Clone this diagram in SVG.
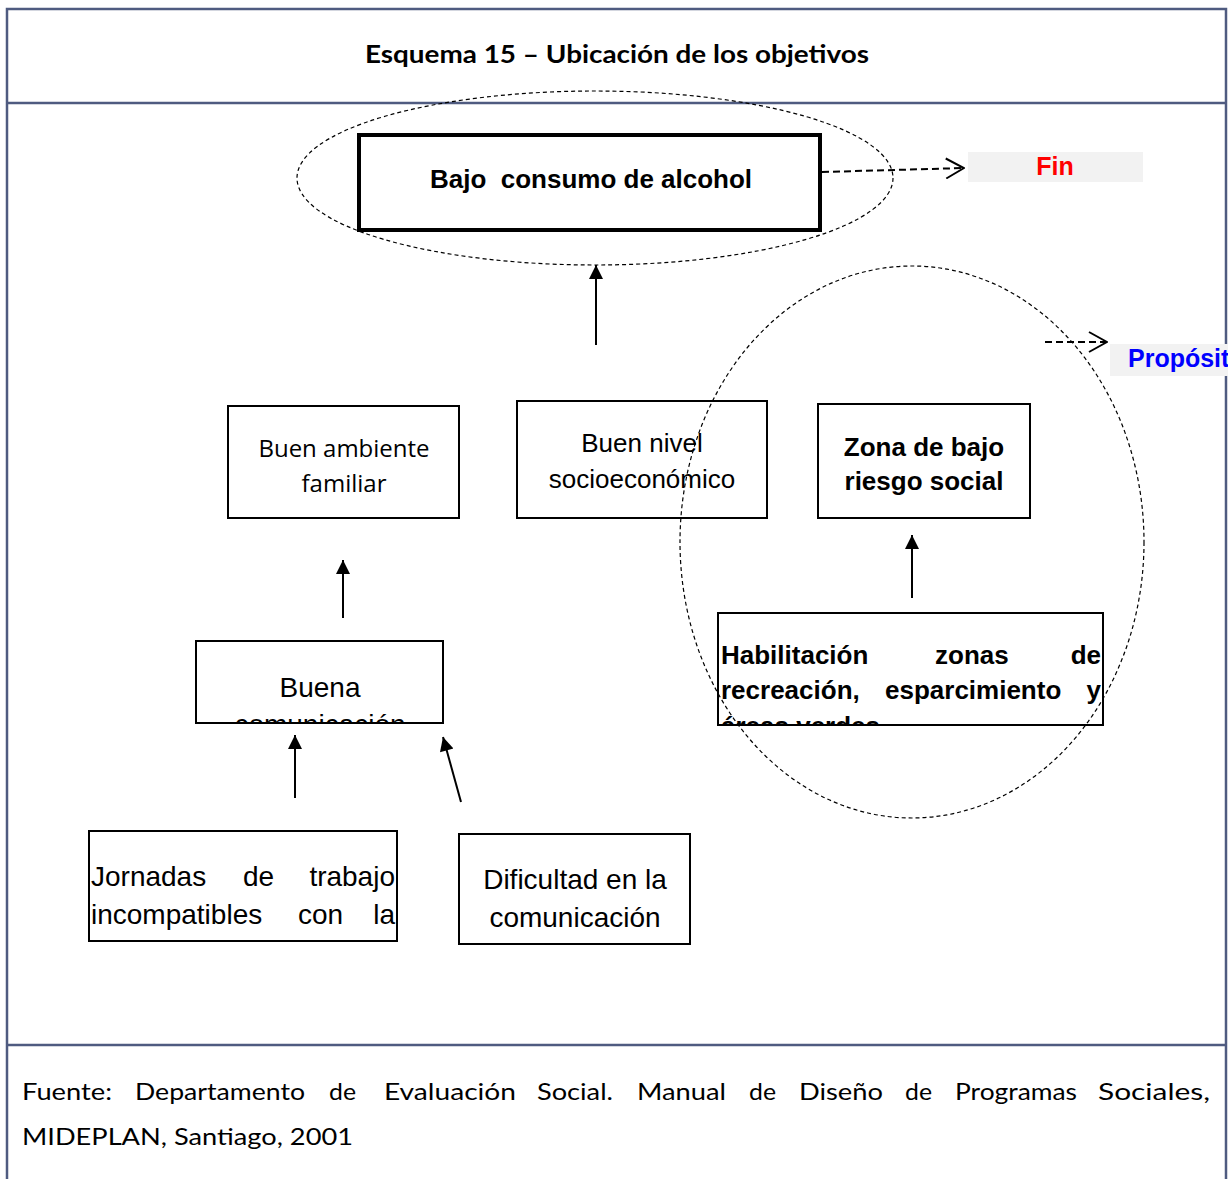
<svg xmlns="http://www.w3.org/2000/svg" width="1228" height="1179" viewBox="0 0 1228 1179">
<style>
.frame{stroke:#4f5b80;stroke-width:2.5;fill:none}
.box{fill:#fff;stroke:#000;stroke-width:2}
.thick{fill:#fff;stroke:#000;stroke-width:4}
.ell{fill:none;stroke:#000;stroke-width:1.2;stroke-dasharray:4 3}
.conn{stroke:#000;stroke-width:2;fill:none}
.dconn{stroke:#000;stroke-width:2;fill:none;stroke-dasharray:7 4}
.ar{font-family:"Liberation Sans",Arial,sans-serif;fill:#000}
.b{font-weight:bold}
.os{font-family:"Open Sans",sans-serif;fill:#000}
.cal{font-family:Lato,"Open Sans",sans-serif;fill:#000}
.lbl{fill:#f2f2f2}
</style>
<defs>
<marker id="ah" viewBox="0 0 10 10" refX="10" refY="5" markerWidth="17" markerHeight="14" markerUnits="userSpaceOnUse" orient="auto">
<path d="M0,0 L10,5 L0,10 z" fill="#000"/>
</marker>
<marker id="oh" viewBox="0 0 20 22" refX="19" refY="11" markerWidth="20" markerHeight="22" markerUnits="userSpaceOnUse" orient="auto">
<path d="M1,1 L19,11 L1,21" fill="none" stroke="#000" stroke-width="2"/>
</marker>
<clipPath id="cBuena"><rect x="196" y="641" width="247" height="82"/></clipPath>
<clipPath id="cHab"><rect x="718" y="613" width="385" height="112"/></clipPath>
</defs>

<g id="frame">
<path class="frame" d="M7,1179 L7,9 L1226,9 L1226,1179"/>
<line class="frame" x1="7" y1="103" x2="1226" y2="103"/>
<line class="frame" x1="7" y1="1045" x2="1226" y2="1045"/>
</g>

<g id="title">
<text class="cal b" x="365" y="63" font-size="25" textLength="504" lengthAdjust="spacingAndGlyphs">Esquema 15 – Ubicación de los objetivos</text>
</g>

<g id="connectors">
<line class="conn" x1="596" y1="345" x2="596" y2="265" marker-end="url(#ah)"/>
<line class="conn" x1="343" y1="618" x2="343" y2="560" marker-end="url(#ah)"/>
<line class="conn" x1="295" y1="798" x2="295" y2="735" marker-end="url(#ah)"/>
<line class="conn" x1="461" y1="802" x2="443" y2="737" marker-end="url(#ah)"/>
<line class="conn" x1="912" y1="598" x2="912" y2="535" marker-end="url(#ah)"/>
<line class="dconn" x1="822" y1="172" x2="964" y2="168" marker-end="url(#oh)"/>
<line class="dconn" x1="1045" y1="342" x2="1107" y2="342" marker-end="url(#oh)"/>
</g>

<g id="fin">
<rect class="lbl" x="968" y="152" width="175" height="30"/>
<text class="ar b" x="1055" y="175" font-size="25" style="fill:#ff0000" text-anchor="middle">Fin</text>
</g>

<g id="proposito">
<rect class="lbl" x="1110" y="344" width="118" height="32"/>
<text class="ar b" x="1128" y="367" font-size="25" style="fill:#0000ff">Propósito</text>
</g>

<g id="bajo-consumo">
<rect class="thick" x="359" y="135" width="461" height="95"/>
<text class="ar b" x="591" y="188" font-size="26" text-anchor="middle" xml:space="preserve">Bajo  consumo de alcohol</text>
</g>

<g id="buen-ambiente">
<rect class="box" x="228" y="406" width="231" height="112"/>
<text class="os" font-size="24" text-anchor="middle"><tspan x="344" y="457">Buen ambiente</tspan><tspan x="344" y="492">familiar</tspan></text>
</g>

<g id="buen-nivel">
<rect class="box" x="517" y="401" width="250" height="117"/>
<text class="ar" font-size="26" text-anchor="middle"><tspan x="642" y="452">Buen nivel</tspan><tspan x="642" y="488">socioeconómico</tspan></text>
</g>

<g id="zona">
<rect class="box" x="818" y="404" width="212" height="114"/>
<text class="ar b" font-size="26" text-anchor="middle"><tspan x="924" y="456">Zona de bajo</tspan><tspan x="924" y="490">riesgo social</tspan></text>
</g>

<g id="buena-comunicacion">
<rect class="box" x="196" y="641" width="247" height="82"/>
<text class="ar" font-size="28" text-anchor="middle" clip-path="url(#cBuena)"><tspan x="320" y="697">Buena</tspan><tspan x="320" y="734">comunicación</tspan></text>
</g>

<g id="habilitacion">
<rect class="box" x="718" y="613" width="385" height="112"/>
<g clip-path="url(#cHab)">
<text class="ar b" font-size="26" x="721" y="664">Habilitación</text>
<text class="ar b" font-size="26" x="935" y="664">zonas</text>
<text class="ar b" font-size="26" x="1101" y="664" text-anchor="end">de</text>
<text class="ar b" font-size="26" x="721" y="699">recreación,</text>
<text class="ar b" font-size="26" x="885" y="699">esparcimiento</text>
<text class="ar b" font-size="26" x="1101" y="699" text-anchor="end">y</text>
<text class="ar b" font-size="26" x="721" y="735">áreas verdes</text>
</g>
</g>

<g id="jornadas">
<rect class="box" x="89" y="831" width="308" height="110"/>
<text class="ar" font-size="28" x="91" y="886">Jornadas</text>
<text class="ar" font-size="28" x="243" y="886">de</text>
<text class="ar" font-size="28" x="395" y="886" text-anchor="end">trabajo</text>
<text class="ar" font-size="28" x="91" y="924">incompatibles</text>
<text class="ar" font-size="28" x="298" y="924">con</text>
<text class="ar" font-size="28" x="395" y="924" text-anchor="end">la</text>
</g>

<g id="dificultad">
<rect class="box" x="459" y="834" width="231" height="110"/>
<text class="ar" font-size="28" text-anchor="middle"><tspan x="575" y="889">Dificultad en la</tspan><tspan x="575" y="927">comunicación</tspan></text>
</g>

<g id="groups">
<ellipse class="ell" cx="595" cy="178" rx="298" ry="87"/>
<ellipse class="ell" cx="912" cy="542" rx="232" ry="276"/>
</g>

<g id="footer">
<text class="cal" font-size="24" y="1100" x="22" textLength="90" lengthAdjust="spacingAndGlyphs">Fuente:</text>
<text class="cal" font-size="24" y="1100" x="135" textLength="170" lengthAdjust="spacingAndGlyphs">Departamento</text>
<text class="cal" font-size="24" y="1100" x="329" textLength="27" lengthAdjust="spacingAndGlyphs">de</text>
<text class="cal" font-size="24" y="1100" x="384" textLength="132" lengthAdjust="spacingAndGlyphs">Evaluación</text>
<text class="cal" font-size="24" y="1100" x="537" textLength="76" lengthAdjust="spacingAndGlyphs">Social.</text>
<text class="cal" font-size="24" y="1100" x="637" textLength="89" lengthAdjust="spacingAndGlyphs">Manual</text>
<text class="cal" font-size="24" y="1100" x="749" textLength="27" lengthAdjust="spacingAndGlyphs">de</text>
<text class="cal" font-size="24" y="1100" x="799" textLength="84" lengthAdjust="spacingAndGlyphs">Diseño</text>
<text class="cal" font-size="24" y="1100" x="905" textLength="27" lengthAdjust="spacingAndGlyphs">de</text>
<text class="cal" font-size="24" y="1100" x="955" textLength="122" lengthAdjust="spacingAndGlyphs">Programas</text>
<text class="cal" font-size="24" y="1100" x="1098" textLength="112" lengthAdjust="spacingAndGlyphs">Sociales,</text>
<text class="cal" font-size="24" x="22" y="1145" textLength="331" lengthAdjust="spacingAndGlyphs">MIDEPLAN, Santiago, 2001</text>
</g>
</svg>
